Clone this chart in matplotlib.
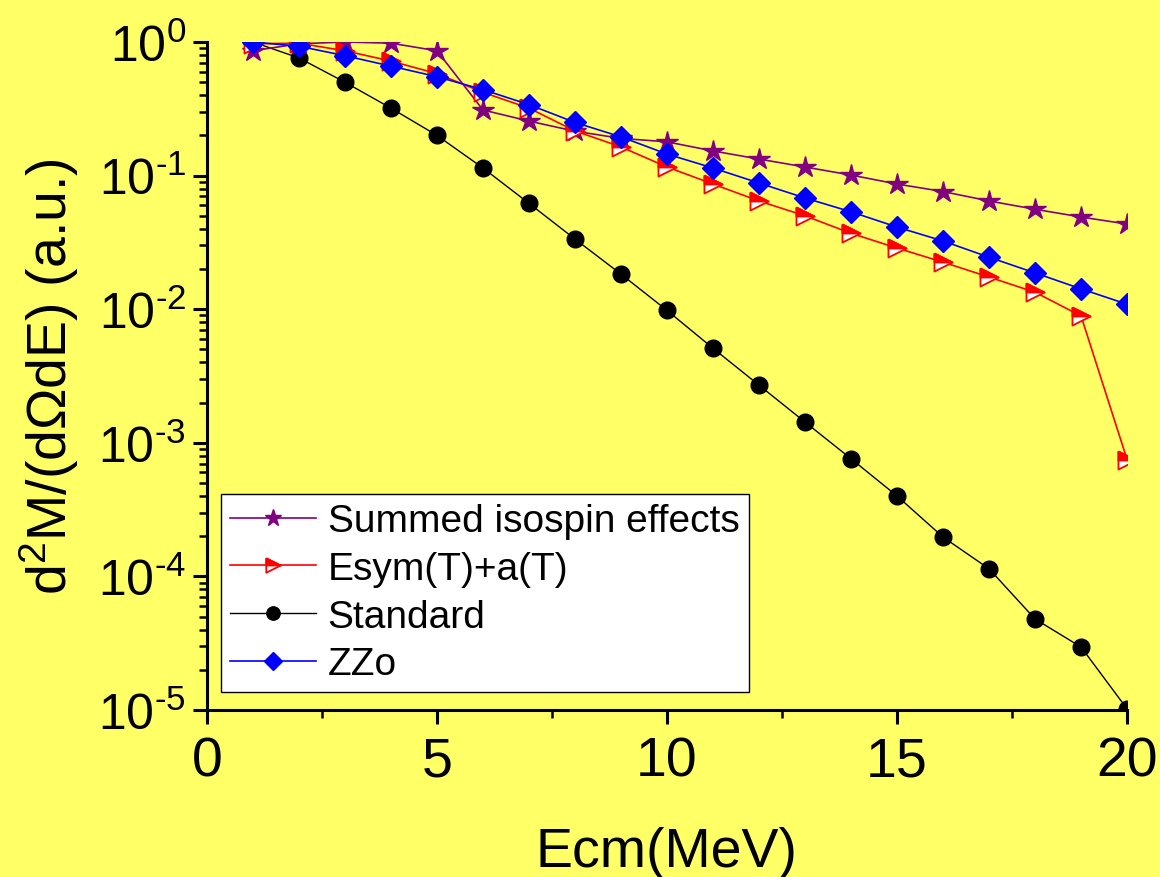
import math
import matplotlib
matplotlib.use("Agg")
import matplotlib.pyplot as plt
from matplotlib.ticker import FuncFormatter

plt.rcParams['font.family'] = ['Liberation Sans', 'DejaVu Sans']
plt.rcParams['mathtext.fontset'] = 'custom'
plt.rcParams['mathtext.rm'] = 'Liberation Sans'
plt.rcParams['mathtext.it'] = 'Liberation Sans:italic'
plt.rcParams['mathtext.bf'] = 'Liberation Sans:bold'
plt.rcParams['axes.unicode_minus'] = False

# collision energy (MeV)
ecm = list(range(1, 21))

summed = [0.86, 0.97, 1.0, 0.98, 0.86, 0.31, 0.256, 0.215, 0.19, 0.179,
          0.153, 0.133, 0.116, 0.101, 0.0865, 0.076, 0.0646, 0.056, 0.049, 0.0434]
esym_a = [0.97, 0.98, 0.86, 0.72, 0.58, 0.42, 0.32, 0.216, 0.164, 0.116,
          0.0865, 0.0646, 0.050, 0.037, 0.0287, 0.0225, 0.0174, 0.0134, 0.0089, 0.00075]
standard = [1.0, 0.76, 0.50, 0.32, 0.20, 0.114, 0.062, 0.0335, 0.0183, 0.0098,
            0.0051, 0.0027, 0.00143, 0.00076, 0.00040, 0.000197, 0.000114, 0.000048, 0.0000296, 0.0000102]
zzo = [1.0, 0.93, 0.79, 0.66, 0.55, 0.44, 0.34, 0.25, 0.195, 0.145,
       0.114, 0.088, 0.068, 0.0536, 0.0412, 0.0324, 0.0245, 0.0187, 0.0142, 0.0109]

labels = ["Summed isospin effects", "Esym(T)+a(T)", "Standard", "ZZo"]

# right-pointing triangle, upper half filled (Origin "half up" symbol)
tri_full = [(-1, 1), (1, 0), (-1, -1), (-1, 1)]
tri_top = [(-1, 1), (1, 0), (-1, 0), (-1, 1)]


def pow10(v, pos):
    # Origin style: 10 with a short hyphen in the exponent
    e = int(round(math.log10(v)))
    if e < 0:
        return r'10$^{\text{-}\mathregular{%d}}$' % (-e)
    return r'10$^{\mathregular{%d}}$' % e


bg = '#FFFF66'
fig = plt.figure(figsize=(11.6, 8.78), dpi=100, facecolor=bg)
ax = fig.add_axes([0.1784, 0.1902, 0.7932, 0.7608], facecolor=bg)

l_std, = ax.plot(ecm, standard, color='black', lw=1, marker='o', ms=12,
                 mfc='black', mec='black')
l_sum, = ax.plot(ecm, summed, color='#800080', lw=1.2, marker='*', ms=16,
                 mfc='#800080', mec='#800080')
l_esa, = ax.plot(ecm, esym_a, color='red', lw=1.2, marker=tri_full, ms=13,
                 mfc='white', mec='red', mew=1.3)
l_esa2, = ax.plot(ecm, esym_a, ls='none', marker=tri_top, ms=13,
                  mfc='red', mec='red', mew=1.3)
l_zzo, = ax.plot(ecm, zzo, color='blue', lw=1.2, marker='D', ms=11,
                 mfc='blue', mec='blue')

ax.set_yscale('log')
ax.set_xlim(0, 20)
ax.set_ylim(1e-5, 1)
ax.set_xticks([0, 5, 10, 15, 20])
ax.set_xticks([2.5, 7.5, 12.5, 17.5], minor=True)
ax.yaxis.set_major_formatter(FuncFormatter(pow10))

for s in ['top', 'right']:
    ax.spines[s].set_visible(False)
for s in ['left', 'bottom']:
    ax.spines[s].set_linewidth(2.2)

ax.tick_params(which='major', direction='out', length=10, width=2.2,
               labelsize=36, pad=5)
ax.tick_params(which='minor', direction='out', length=5.5, width=1.8)
ax.tick_params(axis='x', which='major', labelsize=40, pad=8)

ax.set_xlabel("Ecm(MeV)", fontsize=40, labelpad=28)
ax.set_ylabel(r"d$^\mathregular{2}$M/(dΩdE) (a.u.)", fontsize=40, labelpad=12)

leg = ax.legend([l_sum, (l_esa, l_esa2), l_std, l_zzo], labels, loc='lower left',
                bbox_to_anchor=(0.015, 0.027), borderaxespad=0, fontsize=28,
                frameon=True, fancybox=False, edgecolor='black', facecolor='white',
                framealpha=1, handlelength=2.2, handletextpad=0.3,
                labelspacing=0.3, borderpad=0.25, markerscale=0.8)
leg.get_frame().set_linewidth(1)

fig.savefig('out.png', dpi=100, facecolor=bg)
